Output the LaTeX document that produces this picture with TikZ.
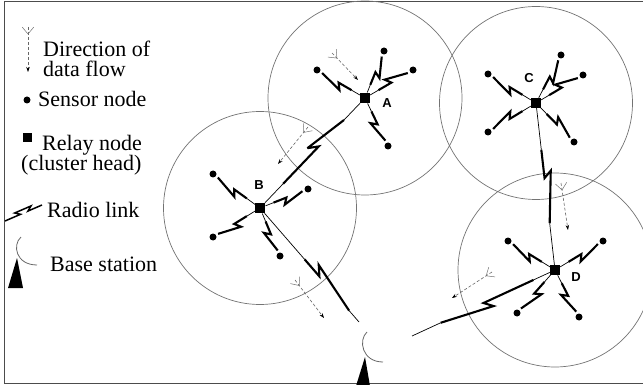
\documentclass[tikz,border=0pt]{standalone}
\usepackage{fontspec}
\setmainfont{Liberation Serif}
\newfontfamily\labfont{Liberation Sans}
\usetikzlibrary{calc,arrows.meta}
% sensor link: #1 relay, #2 sensor, #3 zig point, #4 back point, #5 side angle
\newcommand\slink[5]{%
  \draw[thinlk] ($(#1)!6pt!(#2)$) -- ($(#1)!0.28!(#2)$);
  \draw[thicklk] ($(#1)!0.28!(#2)$) -- ($(#1)!#3!(#2)$) -- ($(#1)!#4!(#2)!6pt!#5:(#2)$) -- ($(#2)!6pt!(#1)$);
}
% long link: #1 from, #2 to, #3 t1, #4 tz, #5 tb, #6 t2
\newcommand\llink[6]{%
  \draw[thinlk] (#1) -- ($(#1)!#3!(#2)$);
  \draw[thinlk] ($(#1)!#6!(#2)$) -- (#2);
  \draw[thicklk] ($(#1)!#3!(#2)$) -- ($(#1)!#4!(#2)$) -- ($(#1)!#5!(#2)!7pt!90:(#2)$) -- ($(#1)!#6!(#2)$);
}
% data flow arrow: #1 tail, #2 head
\newcommand\flowarrow[2]{%
  \draw[flowln] (#1) -- (#2);
  \draw[forkln] ($(#1)!7pt!(#2)$) -- ($(#1)!7pt!(#2)!9pt!140:(#2)$);
  \draw[forkln] ($(#1)!7pt!(#2)$) -- ($(#1)!7pt!(#2)!9pt!-140:(#2)$);
}
\begin{document}
\begin{tikzpicture}[x=1pt,y=-1pt,
  cellrange/.style={draw=black!55, line width=0.7pt},
  sensor/.style={circle, fill=black, minimum size=7pt, inner sep=0pt},
  relay/.style={rectangle, fill=black, minimum size=10pt, inner sep=0pt},
  thinlk/.style={line width=0.7pt},
  thicklk/.style={line width=2.1pt, line join=miter, miter limit=4},
  flowln/.style={draw=black!60, line width=0.6pt, dash pattern=on 3pt off 2pt, -{Stealth[length=5pt,width=3.5pt,black]}},
  forkln/.style={draw=black!55, line width=0.5pt},
  lbl/.style={font=\labfont\bfseries\fontsize{13}{13}\selectfont, inner sep=0pt},
  legtxt/.style={font=\fontsize{22}{24}\selectfont, inner sep=0pt, anchor=base west},
  framec/.style={draw=black!70, line width=1pt},
  bsarc/.style={draw=black!60, line width=0.8pt}]
\useasboundingbox (0,0) rectangle (643,385);
\draw[framec] (643,1.5) -- (4,1.5) -- (4,383) -- (643,383);

% relay nodes
\node[relay] (A) at (365,98) {};
\node[relay] (B) at (260,208) {};
\node[relay] (C) at (536,103) {};
\node[relay] (D) at (555,270) {};
% sensor nodes
\node[sensor] (a1) at (317,70) {};
\node[sensor] (a2) at (384,51) {};
\node[sensor] (a3) at (413,70) {};
\node[sensor] (a4) at (388,146) {};
\node[sensor] (c1) at (488,74) {};
\node[sensor] (c2) at (561,55) {};
\node[sensor] (c3) at (583,75) {};
\node[sensor] (c4) at (488,132) {};
\node[sensor] (c5) at (574,142) {};
\node[sensor] (b1) at (213,174) {};
\node[sensor] (b2) at (308,189) {};
\node[sensor] (b3) at (213,237) {};
\node[sensor] (b4) at (280,256) {};
\node[sensor] (d1) at (508,241) {};
\node[sensor] (d2) at (603,241) {};
\node[sensor] (d3) at (517,313) {};
\node[sensor] (d4) at (579,317) {};
% labels
\node[lbl] (lA) at (387,103) {A};
\node[lbl] (lB) at (259,185) {B};
\node[lbl] (lC) at (529,78) {C};
\node[lbl] (lD) at (576,277) {D};

% ranges
\draw[cellrange] (A) circle[radius=97pt];
\draw[cellrange] (B) circle[radius=96.5pt];
\draw[cellrange] (C) circle[radius=96.5pt];
\draw[cellrange] (D) circle[radius=97pt];

% sensor links
\slink{A}{a1}{0.55}{0.47}{90}
\slink{A}{a2}{0.55}{0.47}{-90}
\slink{A}{a3}{0.55}{0.47}{90}
\slink{A}{a4}{0.55}{0.47}{-90}
\slink{C}{c1}{0.55}{0.47}{90}
\slink{C}{c2}{0.55}{0.47}{-90}
\slink{C}{c3}{0.55}{0.47}{90}
\slink{C}{c4}{0.55}{0.47}{-90}
\slink{C}{c5}{0.55}{0.47}{90}
\slink{B}{b1}{0.55}{0.47}{90}
\slink{B}{b2}{0.55}{0.47}{-90}
\slink{B}{b3}{0.55}{0.47}{90}
\slink{B}{b4}{0.55}{0.47}{-90}
\slink{D}{d1}{0.55}{0.47}{90}
\slink{D}{d2}{0.55}{0.47}{-90}
\slink{D}{d3}{0.55}{0.47}{90}
\slink{D}{d4}{0.55}{0.47}{-90}

% base station
\coordinate (bsB) at (359,322);
\coordinate (bsD) at (412,336);
\draw[bsarc] (367,332) .. controls (358,340) and (362,362) .. (383,362);
\fill (365,357) -- (356,386) -- (370,386) -- cycle;

% long links
\llink{B}{A}{0.22}{0.56}{0.5}{0.8}
\llink{B}{bsB}{0.45}{0.6}{0.54}{0.9}
\llink{C}{D}{0.28}{0.45}{0.41}{0.72}
\llink{D}{bsD}{0.15}{0.5}{0.45}{0.8}

% data flow
\coordinate (f1t) at (332,53);  \coordinate (f1h) at (358,80);
\coordinate (f2t) at (308,127); \coordinate (f2h) at (278,164);
\coordinate (f3t) at (295,280); \coordinate (f3h) at (324,318);
\coordinate (f4t) at (561,183); \coordinate (f4h) at (568,230);
\coordinate (f5t) at (492,272); \coordinate (f5h) at (452,298);
\flowarrow{f1t}{f1h}
\flowarrow{f2t}{f2h}
\flowarrow{f3t}{f3h}
\flowarrow{f4t}{f4h}
\flowarrow{f5t}{f5h}

% legend
\coordinate (lt) at (28,27); \coordinate (lh) at (28,72);
\flowarrow{lt}{lh}
\node[legtxt, align=left, font=\fontsize{22}{20}\selectfont] (t1) at (43,77) {Direction of\\data flow};
\node[sensor] (ls) at (27,100) {};
\node[legtxt] (t3) at (38,107) {Sensor node};
\node[relay, minimum size=9pt] (lr) at (27,138) {};
\node[legtxt] (t4) at (42,151) {Relay node};
\node[legtxt] (t5) at (21,171) {(cluster head)};
\coordinate (lg1) at (5,221); \coordinate (lg2) at (42,205);
\draw[thicklk, line width=1.5pt] (lg1) -- ($(lg1)!0.42!(lg2)$) -- ($(lg1)!0.3!(lg2)!3.5pt!90:(lg2)$) -- ($(lg1)!0.74!(lg2)!3.5pt!90:(lg2)$) -- ($(lg1)!0.62!(lg2)$) -- (lg2);
\node[legtxt] (t6) at (47,218) {Radio link};
\draw[bsarc] (21,237) .. controls (12,245) and (16,265) .. (37,265);
\fill (17,258) -- (8,288) -- (23,288) -- cycle;
\node[legtxt] (t7) at (50,271) {Base station};
\end{tikzpicture}
\end{document}
